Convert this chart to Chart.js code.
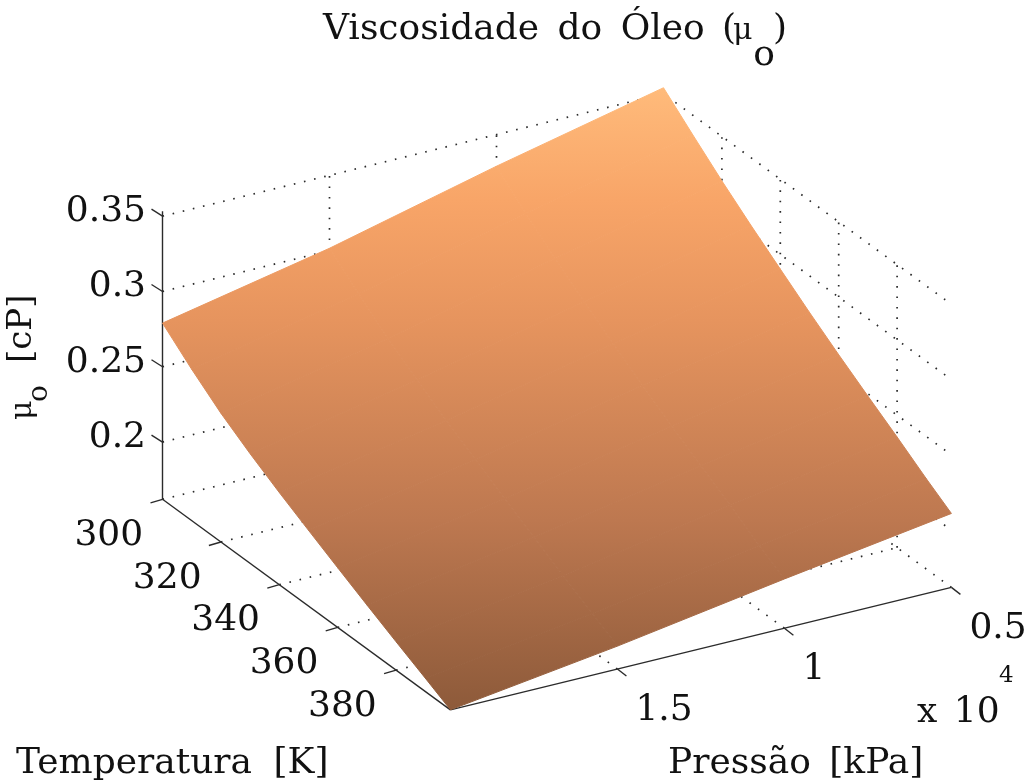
<!DOCTYPE html>
<html><head><meta charset="utf-8">
<style>html,body{margin:0;padding:0;background:#fff}canvas{display:block}</style>
<script src="https://cdn.jsdelivr.net/npm/chart.js@4"></script>
</head><body><canvas id="c" width="1024" height="783"></canvas>
<script>
// ---- data ----
const temperatures = [300, 310, 320, 330, 340, 350, 360, 370, 380, 390, 398.6];   // K
const pressures = [0.5, 1.0, 1.5, 2.0];                  // x 10^4 kPa
const viscosityP05 = [0.354, 0.337, 0.3205, 0.305, 0.2903, 0.2757, 0.2618, 0.2485, 0.2355, 0.222, 0.2111];
const viscosityP10 = [0.329, 0.312, 0.296, 0.2815, 0.2678, 0.2545, 0.2416, 0.2293, 0.2172, 0.2048, 0.1947];
const viscosityP15 = [0.3016, 0.2856, 0.2701, 0.2566, 0.244, 0.232, 0.2203, 0.2089, 0.1978, 0.1867, 0.1772];
const viscosityP20 = [0.279, 0.2625, 0.2475, 0.2348, 0.2232, 0.2123, 0.2016, 0.1911, 0.1808, 0.1708, 0.162];
const viscosityRows = [viscosityP05, viscosityP10, viscosityP15, viscosityP20];
const tempTicks = [300, 320, 340, 360, 380];
const presTicks = [0.5, 1, 1.5];
const viscTicks = [0.2, 0.25, 0.3, 0.35];
const viscTickLabels = ['0.2', '0.25', '0.3', '0.35'];
const tempRange = [300, 398.6], presRange = [0.5, 2.0], viscRange = [0.162, 0.3533];

// ---- view of the 3-D box (screen units per data unit) ----
const view = {ox: 162.5, oy: 499.3, tx: 58.4/20, ty: 42.7/20, px: 334, py: -81.6, z: -1506};
function project(T, P, V) {
  return {
    x: view.ox + (T - 300) * view.tx + (2.0 - P) * view.px,
    y: view.oy + (T - 300) * view.ty + (2.0 - P) * view.py + (V - viscRange[0]) * view.z
  };
}
const FONT = '"DejaVu Serif",serif';
const INK = '#2b2b2b';
const dotted = pts => ({data: pts, showLine: true, pointRadius: 0, borderColor: INK, borderWidth: 1.7, borderDash: [1.6, 8.8], fill: false, order: 3});
const solid = pts => ({data: pts, showLine: true, pointRadius: 0, borderColor: INK, borderWidth: 1.4, fill: false, order: 2});

const datasets = [];
const [T0, T1] = tempRange, [P0, P1] = presRange, [V0] = viscRange, VT = viscRange[1];
// floor grid
tempTicks.forEach(T => datasets.push(dotted([project(T, P1, V0), project(T, P0, V0)])));
presTicks.forEach(P => datasets.push(dotted([project(T1, P, V0), project(T0, P, V0)])));
// left wall (T = 300) and right wall (P = 0.5)
viscTicks.forEach(V => datasets.push(dotted([project(T0, P1, V), project(T0, P0, V), project(T1, P0, V)])));
presTicks.slice(1).forEach(P => datasets.push(dotted([project(T0, P, V0), project(T0, P, VT)])));
tempTicks.slice(1).forEach(T => datasets.push(dotted([project(T, P0, V0), project(T, P0, VT)])));
// axes
datasets.push(solid([project(T0, P1, V0), project(T0, P1, VT)]));
datasets.push(solid([project(T0, P1, V0), project(T1, P1, V0)]));
datasets.push(solid([project(T1, P1, V0), project(T1, P0, V0)]));
// tick marks
const tickStep = {T: [-12, 3.5], P: [9, 7], V: [-11, -7]};
const stub = (p, s) => solid([p, {x: p.x + s[0], y: p.y + s[1]}]);
tempTicks.forEach(T => datasets.push(stub(project(T, P1, V0), tickStep.T)));
presTicks.forEach(P => datasets.push(stub(project(T1, P, V0), tickStep.P)));
viscTicks.forEach(V => datasets.push(stub(project(T0, P1, V), tickStep.V)));

// surface
const surfaceStops = [[0.11, '#ffbb7b'], [0.255, '#f8a568'], [0.41, '#e6945e'], [0.665, '#bd7850'], [0.907, '#8d5a3a']];
let grad = null;
function surfaceGradient(ctx) {
  if (!grad) {
    const h = ctx.chart.height;
    grad = ctx.chart.ctx.createLinearGradient(0, 0, 0, h);
    surfaceStops.forEach(s => grad.addColorStop(s[0], s[1]));
  }
  return grad;
}
for (let i = 0; i < pressures.length - 1; i++) {
  for (let j = 0; j < temperatures.length - 1; j++) {
    const q = [
      project(temperatures[j], pressures[i], viscosityRows[i][j]),
      project(temperatures[j + 1], pressures[i], viscosityRows[i][j + 1]),
      project(temperatures[j + 1], pressures[i + 1], viscosityRows[i + 1][j + 1]),
      project(temperatures[j], pressures[i + 1], viscosityRows[i + 1][j])];
    q.push(q[0]);
    datasets.push({data: q, showLine: true, pointRadius: 0, fill: 'shape',
      backgroundColor: surfaceGradient, borderColor: surfaceGradient, borderWidth: 1, order: 1});
  }
}

const labelsPlugin = {
  id: 'labels3d',
  afterDraw(chart) {
    const c = chart.ctx, sx = chart.scales.x, sy = chart.scales.y;
    const px = v => sx.getPixelForValue(v), py = v => sy.getPixelForValue(v);
    const put = (t, x, y, size, align) => {
      c.font = size + 'px ' + FONT; c.textAlign = align || 'left'; c.textBaseline = 'alphabetic';
      c.fillStyle = '#111'; c.fillText(t, px(x), py(y));
    };
    c.save();
    // title
    c.wordSpacing = '7px';
    put('Viscosidade do Óleo', 323, 39, 36);
    put('(', 722, 39, 36);
    put('μ', 733, 39, 30);
    put('o', 764, 65, 36, 'center');
    put(')', 787, 39, 36, 'right');
    // ticks
    c.wordSpacing = '0px';
    viscTicks.forEach((V, i) => { const p = project(T0, P1, V); put(viscTickLabels[i], 146, p.y + 5, 36, 'right'); });
    tempTicks.forEach(T => { const p = project(T, P1, V0); put(String(T), p.x - 53.7, p.y + 45.5, 36, 'center'); });
    presTicks.forEach(P => { const p = project(T1, P, V0); put(String(P), p.x + 18, p.y + 51, 36); });
    c.wordSpacing = '5px';
    put('x 10', 917, 721.7, 36);
    put('4', 999, 681.7, 23);
    c.wordSpacing = '10px';
    put('Temperatura [K]', 16, 773, 36);
    c.wordSpacing = '7px';
    put('Pressão [kPa]', 668, 773, 36);
    c.wordSpacing = '0px';
    // rotated z label
    c.translate(px(31), py(420)); c.rotate(-Math.PI / 2);
    c.textAlign = 'left'; c.fillStyle = '#111';
    c.font = '30px ' + FONT; c.fillText('μ', 0, 0);
    c.font = '28px ' + FONT; c.fillText('o', 18, 16);
    c.font = '34px ' + FONT; c.fillText('[cP]', 57, 0);
    c.restore();
  }
};

new Chart(document.getElementById('c'), {
  type: 'scatter',
  data: {datasets},
  options: {
    responsive: false, animation: false,
    layout: {padding: 0},
    plugins: {legend: {display: false}, tooltip: {enabled: false}, title: {display: false}},
    scales: {
      x: {type: 'linear', min: 0, max: 1024, display: false},
      y: {type: 'linear', min: 0, max: 783, reverse: true, display: false}
    }
  },
  plugins: [labelsPlugin]
});
</script></body></html>
